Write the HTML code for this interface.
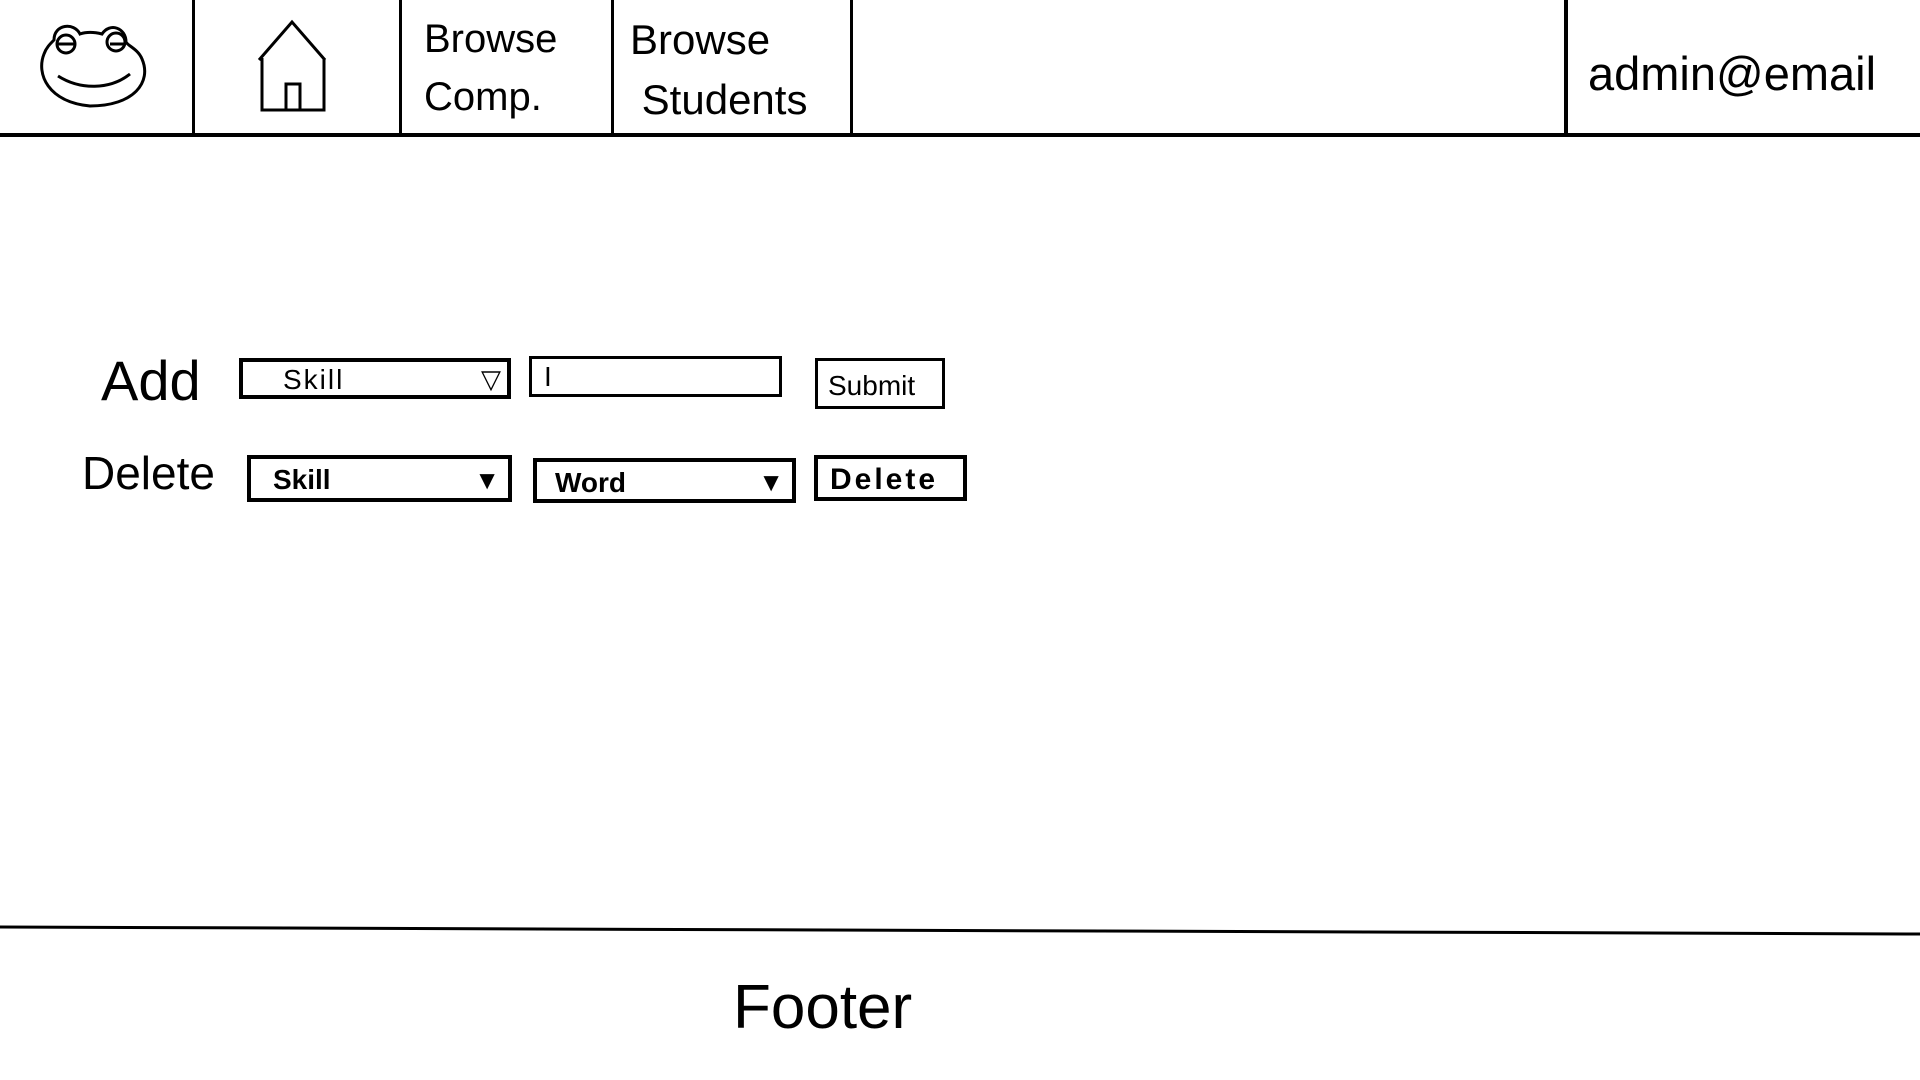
<!DOCTYPE html>
<html><head><meta charset="utf-8"><style>
body{margin:0;width:1920px;height:1080px;background:#fff;position:relative;overflow:hidden;font-family:"Liberation Sans",sans-serif;color:#000}
.a{position:absolute}
.box{position:absolute;border:4px solid #000;box-sizing:border-box;background:#fff}
.txt{position:absolute;white-space:nowrap}
</style></head><body>
<div class="a" style="left:0;top:133px;width:1920px;height:4px;background:#000"></div>
<div class="a" style="left:192px;top:0;width:3px;height:135px;background:#000"></div>
<div class="a" style="left:399px;top:0;width:3px;height:135px;background:#000"></div>
<div class="a" style="left:611px;top:0;width:3px;height:135px;background:#000"></div>
<div class="a" style="left:850px;top:0;width:3px;height:135px;background:#000"></div>
<div class="a" style="left:1564px;top:0;width:4px;height:135px;background:#000"></div>

<svg class="a" style="left:30px;top:14px" width="125" height="100" viewBox="0 0 125 100">
<path d="M14 40 C6 60 18 88 60 92 C104 92 122 68 112 45 C108 35 98 32 96 28 C96 14 80 8 72 20 C64 18 56 18 50 20 C44 8 24 10 24 26 C20 30 16 34 14 40 Z" fill="none" stroke="#000" stroke-width="3"/>
<circle cx="36" cy="30" r="9" fill="none" stroke="#000" stroke-width="3"/>
<circle cx="86" cy="28" r="9" fill="none" stroke="#000" stroke-width="3"/>
<path d="M28 30 L44 30 M80 30 L94 30" stroke="#000" stroke-width="3"/>
<path d="M28 62 C50 76 80 76 100 60" fill="none" stroke="#000" stroke-width="3"/>
</svg>
<svg class="a" style="left:255px;top:18px" width="75" height="95" viewBox="0 0 75 95">
<path d="M4 42 L37 4 L70 42 M7 40 L7 92 L69 92 L69 40" fill="none" stroke="#000" stroke-width="3"/>
<rect x="31" y="66" width="14" height="26" fill="none" stroke="#000" stroke-width="3"/>
</svg>
<div class="txt" style="left:424px;top:10px;font-size:40px;line-height:58px">Browse<br>Comp.</div>
<div class="txt" style="left:630px;top:10px;font-size:42px;line-height:60px">Browse<br>&nbsp;Students</div>
<div class="txt" style="left:1588px;top:46px;font-size:47px">admin@email</div>

<div class="txt" style="left:101px;top:348px;font-size:56px">Add</div>
<div class="box" style="left:239px;top:358px;width:272px;height:41px"><span class="txt" style="left:40px;top:2px;font-size:28px;letter-spacing:2px">Skill</span><span class="txt" style="right:6px;top:2px;font-size:26px">▽</span></div>
<div class="box" style="left:529px;top:356px;width:253px;height:41px;border-width:3px"><span class="txt" style="left:12px;top:2px;font-size:28px">I</span></div>
<div class="box" style="left:815px;top:358px;width:130px;height:51px;border-width:3px"><span class="txt" style="left:10px;top:9px;font-size:28px">Submit</span></div>

<div class="txt" style="left:82px;top:446px;font-size:46px">Delete</div>
<div class="box" style="left:247px;top:455px;width:265px;height:47px"><span class="txt" style="left:22px;top:5px;font-size:28px;font-weight:bold">Skill</span><span class="txt" style="right:8px;top:6px;font-size:26px">▼</span></div>
<div class="box" style="left:533px;top:458px;width:263px;height:45px"><span class="txt" style="left:18px;top:5px;font-size:28px;font-weight:bold">Word</span><span class="txt" style="right:8px;top:5px;font-size:26px">▼</span></div>
<div class="box" style="left:814px;top:455px;width:153px;height:46px"><span class="txt" style="left:12px;top:4px;font-size:30px;font-weight:bold;letter-spacing:3px">Delete</span></div>

<svg class="a" style="left:0;top:920px" width="1920" height="20"><path d="M0 7 L1920 14" stroke="#000" stroke-width="3"/></svg>
<div class="txt" style="left:733px;top:972px;font-size:62px">Footer</div>
</body></html>
